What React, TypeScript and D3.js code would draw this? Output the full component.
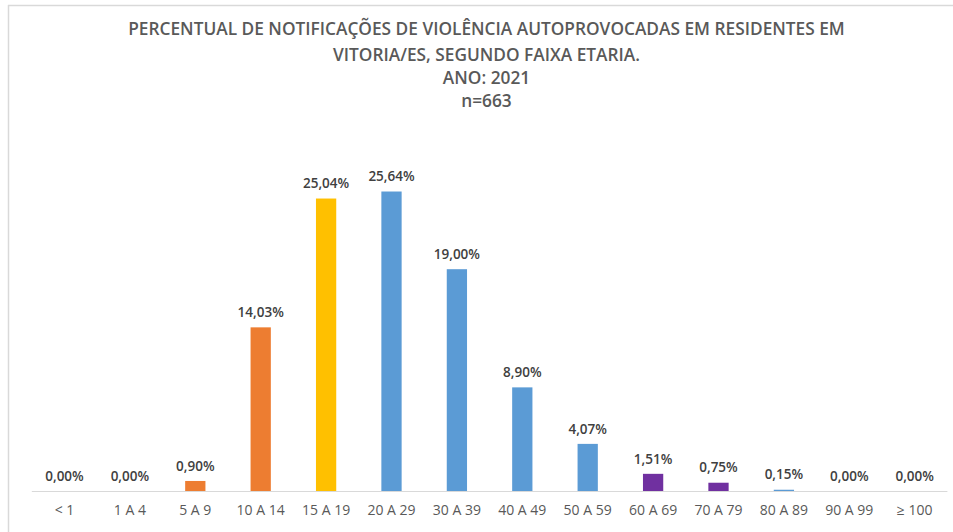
import React from "react";
import * as d3 from "d3";

const categories = ["< 1", "1 A 4", "5 A 9", "10 A 14", "15 A 19", "20 A 29", "30 A 39", "40 A 49", "50 A 59", "60 A 69", "70 A 79", "80 A 89", "90 A 99", "≥ 100"];
const values = [0, 0, 0.9, 14.03, 25.04, 25.64, 19.0, 8.9, 4.07, 1.51, 0.75, 0.15, 0, 0];
const groups = ["blue", "blue", "orange", "orange", "yellow", "blue", "blue", "blue", "blue", "purple", "purple", "blue", "blue", "blue"];
const titleLines = [
  "PERCENTUAL DE NOTIFICAÇÕES DE VIOLÊNCIA AUTOPROVOCADAS EM RESIDENTES EM",
  "VITORIA/ES, SEGUNDO FAIXA ETARIA.",
  "ANO: 2021",
  "n=663",
];

const palette: Record<string, string> = {
  blue: "#5B9BD5",
  orange: "#ED7D31",
  yellow: "#FFC000",
  purple: "#7030A0",
};

const W = 953;
const H = 532;
const FONT = "'Open Sans', sans-serif";

export default function App() {
  const x = d3.scaleBand<string>().domain(categories).range([31.8, 947.4]).paddingInner(0.69).paddingOuter(0.345);
  const y = d3.scaleLinear().domain([0, 30]).range([491.5, 140.5]);
  const fmt = (v: number) => v.toFixed(2).replace(".", ",") + "%";
  const titleY = [29, 55, 78, 101];
  return (
    <svg width={W} height={H} style={{ position: "absolute", left: 0, top: 0, background: "#fff" }}>
      <rect x={0} y={0} width={W} height={H} fill="#fff" />
      <line x1={8.5} y1={5} x2={8.5} y2={H} stroke="#d9d9d9" strokeWidth={1.5} />
      <line x1={8} y1={5.5} x2={W} y2={5.5} stroke="#d9d9d9" strokeWidth={1.5} />
      {titleLines.map((t, i) => (
        <text key={i} x={486.5} y={titleY[i]} dy="0.35em" textAnchor="middle" fontFamily={FONT} fontWeight={600} fontSize={17.3} fill="#595959">
          {t}
        </text>
      ))}
      {categories.map((c, i) => (
        <rect key={c} x={x(c)} y={y(values[i])} width={x.bandwidth()} height={y(0) - y(values[i])} fill={palette[groups[i]]} />
      ))}
      <line x1={31.8} x2={947.4} y1={y(0)} y2={y(0)} stroke="#d9d9d9" strokeWidth={1} />
      {categories.map((c, i) => (
        <text key={"v" + c} x={(x(c) as number) + x.bandwidth() / 2} y={y(values[i]) - 15} dy="0.35em" textAnchor="middle" fontFamily={FONT} fontWeight={600} fontSize={13.5} fill="#404040">
          {fmt(values[i])}
        </text>
      ))}
      {categories.map((c) => (
        <text key={"c" + c} x={(x(c) as number) + x.bandwidth() / 2} y={510} dy="0.35em" textAnchor="middle" fontFamily={FONT} fontWeight={500} fontSize={14} fill="#595959">
          {c}
        </text>
      ))}
    </svg>
  );
}
